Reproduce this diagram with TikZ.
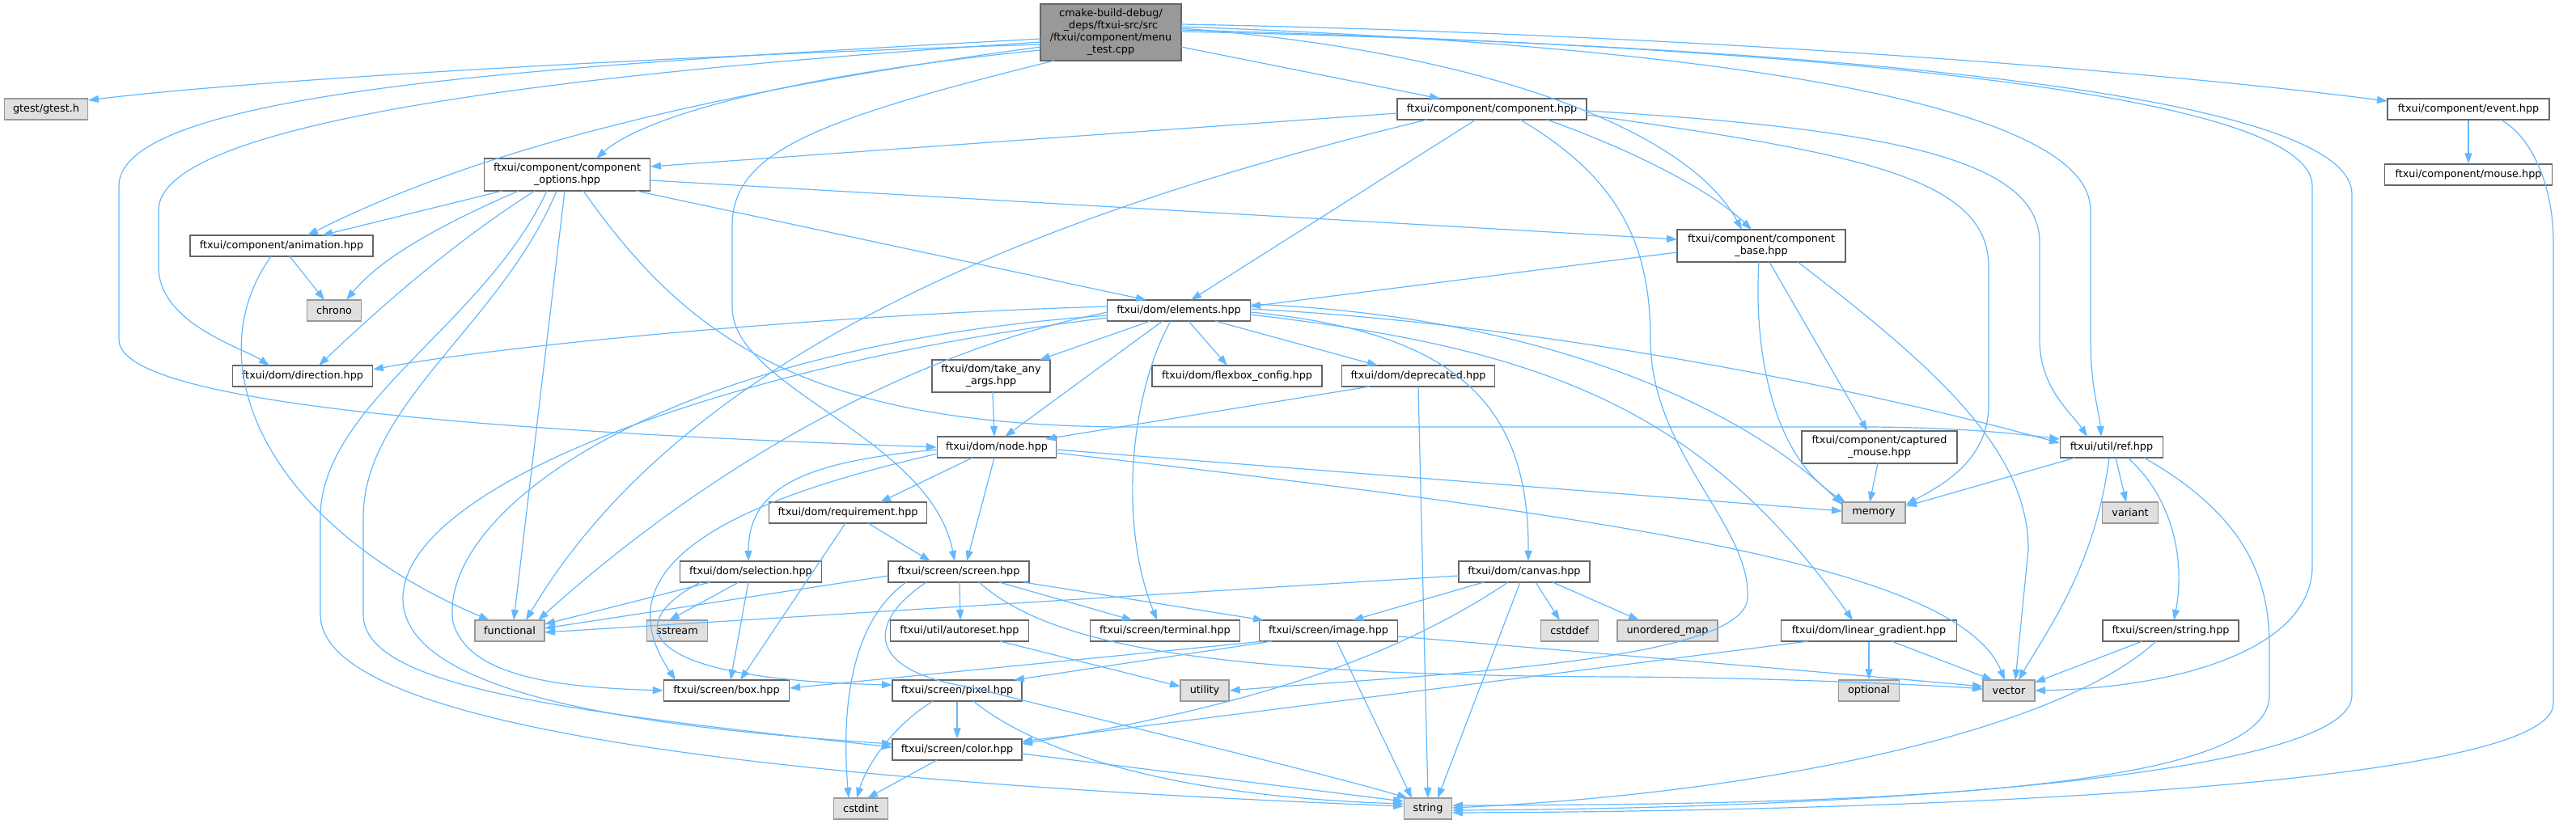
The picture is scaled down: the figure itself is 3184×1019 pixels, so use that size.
\documentclass[tikz,border=0pt]{standalone}
\usepackage{fontspec}
\setmainfont{DejaVu Sans}
\usetikzlibrary{arrows.meta}
\definecolor{edgec}{HTML}{63B8FF}
\definecolor{bordc}{HTML}{666666}
\definecolor{extb}{HTML}{999999}
\definecolor{extf}{HTML}{E0E0E0}
\definecolor{mainf}{HTML}{999999}
\tikzset{
  hdr/.style={draw=bordc, fill=white, line width=1.4pt, inner sep=0pt, align=center,
    font=\fontsize{12.8}{15}\selectfont, text=black},
  ext/.style={hdr, draw=extb, fill=extf},
  mainbox/.style={hdr, fill=mainf},
  e/.style={draw=edgec, line width=1.2pt, -{Triangle[length=13pt,width=9pt]}},
}
\newcommand{\bx}[6]{\node[#1, minimum width=#4pt, minimum height=#5pt] (#2) at (#3) {#6};}
\begin{document}
\begin{tikzpicture}[x=1pt,y=-1pt]
\useasboundingbox (0,0) rectangle (3184,1019);
% nodes
\bx{mainbox}{main}{1373,40}{174}{70}{cmake-build-debug/\\\_deps/ftxui-src/src\\/ftxui/component/menu\\\_test.cpp}
\bx{ext}{gtest}{57,135}{103}{26}{gtest/gtest.h}
\bx{hdr}{comp}{1844,135}{234}{26}{ftxui/component/component.hpp}
\bx{hdr}{event}{3051,135}{200}{26}{ftxui/component/event.hpp}
\bx{hdr}{copt}{701,216}{205}{40}{ftxui/component/component\\\_options.hpp}
\bx{hdr}{mouse}{3051,216}{207}{26}{ftxui/component/mouse.hpp}
\bx{hdr}{anim}{348,304}{226}{26}{ftxui/component/animation.hpp}
\bx{hdr}{cbase}{2177,304}{208}{40}{ftxui/component/component\\\_base.hpp}
\bx{ext}{chrono}{413,384}{67}{26}{chrono}
\bx{hdr}{elem}{1457,384}{177}{26}{ftxui/dom/elements.hpp}
\bx{hdr}{dir}{374,465}{173}{26}{ftxui/dom/direction.hpp}
\bx{hdr}{take}{1225,465}{146}{40}{ftxui/dom/take\_any\\\_args.hpp}
\bx{hdr}{flex}{1529,465}{210}{26}{ftxui/dom/flexbox\_config.hpp}
\bx{hdr}{dep}{1753,465}{189}{26}{ftxui/dom/deprecated.hpp}
\bx{hdr}{node}{1232,553}{147}{26}{ftxui/dom/node.hpp}
\bx{hdr}{capt}{2323,553}{192}{40}{ftxui/component/captured\\\_mouse.hpp}
\bx{hdr}{ref}{2610,553}{127}{26}{ftxui/util/ref.hpp}
\bx{hdr}{req}{1048,634}{195}{26}{ftxui/dom/requirement.hpp}
\bx{ext}{mem}{2316,634}{78}{26}{memory}
\bx{ext}{variant}{2633,634}{69}{26}{variant}
\bx{hdr}{sel}{928,707}{175}{26}{ftxui/dom/selection.hpp}
\bx{hdr}{scr}{1185,707}{174}{26}{ftxui/screen/screen.hpp}
\bx{hdr}{canvas}{1884,707}{162}{26}{ftxui/dom/canvas.hpp}
\bx{ext}{func}{630,780}{86}{26}{functional}
\bx{ext}{sstream}{837,780}{75}{26}{sstream}
\bx{hdr}{auto}{1186,780}{171}{26}{ftxui/util/autoreset.hpp}
\bx{hdr}{term}{1440,780}{185}{26}{ftxui/screen/terminal.hpp}
\bx{hdr}{img}{1642,780}{171}{26}{ftxui/screen/image.hpp}
\bx{ext}{cstddef}{1940,780}{71}{26}{cstddef}
\bx{ext}{umap}{2061,780}{124}{26}{unordered\_map}
\bx{hdr}{lg}{2310,780}{217}{26}{ftxui/dom/linear\_gradient.hpp}
\bx{hdr}{sstr}{2683,780}{168}{26}{ftxui/screen/string.hpp}
\bx{hdr}{box}{898,854}{155}{26}{ftxui/screen/box.hpp}
\bx{hdr}{pixel}{1183,854}{160}{26}{ftxui/screen/pixel.hpp}
\bx{ext}{util}{1489,854}{60}{26}{utility}
\bx{ext}{opt}{2310,854}{75}{26}{optional}
\bx{ext}{vector}{2483,854}{64}{26}{vector}
\bx{hdr}{color}{1183,927}{160}{26}{ftxui/screen/color.hpp}
\bx{ext}{cstdint}{1064,1000}{67}{26}{cstdint}
\bx{ext}{string}{1765,1000}{59}{26}{string}
% main
\draw[e] ([shift={(-87,15)}]main.center) .. controls (800,70) and (300,100) .. ([shift={(52,-11)}]gtest.center);
\draw[e] ([shift={(-87,22)}]main.center) .. controls (1000,90) and (800,140) .. ([shift={(36,-20)}]copt.center);
\draw[e] ([shift={(-87,18)}]main.center) .. controls (900,110) and (600,180) .. ([shift={(32,-13)}]anim.center);
\draw[e] ([shift={(-87,8)}]main.center) .. controls (700,80) and (147,110) .. (147,230) -- (147,420) .. controls (147,490) and (500,530) .. (node.west);
\draw[e] ([shift={(-87,12)}]main.center) .. controls (700,90) and (196,150) .. (196,260) -- (196,330) .. controls (196,400) and (300,430) .. ([shift={(-41,-13)}]dir.center);
\draw[e] ([shift={(-70,35)}]main.center) .. controls (1000,150) and (905,190) .. (905,280) -- (905,380) .. controls (905,480) and (1150,540) .. ([shift={(-5,-13)}]scr.center);
\draw[e] ([shift={(87,18)}]main.center) -- ([shift={(-64,-13)}]comp.center);
\draw[e] ([shift={(87,-5)}]main.center) .. controls (1800,60) and (2080,150) .. ([shift={(-24,-20)}]cbase.center);
\draw[e] ([shift={(87,-10)}]main.center) .. controls (2000,40) and (2600,80) .. ([shift={(-100,-10)}]event.center);
\draw[e] ([shift={(87,-7)}]main.center) .. controls (2200,60) and (2584,140) .. (2584,260) -- (2584,420) .. controls (2584,480) and (2595,510) .. ([shift={(-13,-13)}]ref.center);
\draw[e] ([shift={(87,-3)}]main.center) .. controls (2300,60) and (2858,120) .. (2858,230) -- (2858,700) .. controls (2858,800) and (2700,850) .. ([shift={(32,0)}]vector.center);
\draw[e] ([shift={(87,-1)}]main.center) .. controls (2400,60) and (2907,130) .. (2907,240) -- (2907,860) .. controls (2907,960) and (2300,1000) .. ([shift={(30,2)}]string.center);
% event
\draw[e] (event.south) -- (mouse.north);
\draw[e] ([shift={(40,13)}]event.center) .. controls (3130,170) and (3156,230) .. (3156,300) -- (3156,870) .. controls (3156,970) and (2400,1003) .. ([shift={(30,5)}]string.center);
% component.hpp
\draw[e] ([shift={(-117,5)}]comp.center) -- ([shift={(103,-10)}]copt.center);
\draw[e] ([shift={(-20,13)}]comp.center) -- ([shift={(15,-13)}]elem.center);
\draw[e] ([shift={(-80,13)}]comp.center) .. controls (1300,260) and (850,430) .. ([shift={(20,-13)}]func.center);
\draw[e] ([shift={(35,13)}]comp.center) .. controls (2000,220) and (2040,300) .. (2040,420) .. controls (2040,560) and (2165,650) .. (2160,740) .. controls (2155,820) and (1750,835) .. (util.east);
\draw[e] ([shift={(68,13)}]comp.center) .. controls (2030,190) and (2120,240) .. ([shift={(-12,-20)}]cbase.center);
\draw[e] ([shift={(117,7)}]comp.center) .. controls (2300,190) and (2458,220) .. (2458,330) -- (2458,500) .. controls (2458,570) and (2400,600) .. ([shift={(40,-10)}]mem.center);
\draw[e] ([shift={(117,2)}]comp.center) .. controls (2350,160) and (2521,200) .. (2521,300) -- (2521,420) .. controls (2521,480) and (2560,510) .. ([shift={(-30,-13)}]ref.center);
% component_options
\draw[e] ([shift={(-80,20)}]copt.center) -- ([shift={(50,-13)}]anim.center);
\draw[e] ([shift={(-60,20)}]copt.center) .. controls (540,280) and (470,320) .. ([shift={(15,-13)}]chrono.center);
\draw[e] ([shift={(-40,20)}]copt.center) .. controls (560,300) and (470,380) .. ([shift={(20,-13)}]dir.center);
\draw[e] ([shift={(-25,20)}]copt.center) .. controls (600,400) and (396,500) .. (396,640) -- (396,760) .. controls (396,880) and (800,960) .. ([shift={(-30,-3)}]string.center);
\draw[e] ([shift={(-13,20)}]copt.center) .. controls (620,400) and (449,500) .. (449,640) -- (449,760) .. controls (449,850) and (700,880) .. ([shift={(-80,-3)}]color.center);
\draw[e] ([shift={(-3,20)}]copt.center) -- ([shift={(5,-13)}]func.center);
\draw[e] ([shift={(20,20)}]copt.center) .. controls (850,420) and (1000,528) .. (1400,528) -- (2300,528) .. controls (2420,528) and (2500,537) .. ([shift={(-64,-10)}]ref.center);
\draw[e] ([shift={(85,20)}]copt.center) -- ([shift={(-40,-13)}]elem.center);
\draw[e] ([shift={(103,7)}]copt.center) -- ([shift={(-104,-8)}]cbase.center);
% animation
\draw[e] ([shift={(10,13)}]anim.center) -- ([shift={(-12,-13)}]chrono.center);
\draw[e] ([shift={(-13,13)}]anim.center) .. controls (240,450) and (330,650) .. ([shift={(-25,-13)}]func.center);
% component_base
\draw[e] ([shift={(-104,8)}]cbase.center) -- ([shift={(88,-5)}]elem.center);
\draw[e] ([shift={(-3,20)}]cbase.center) .. controls (2168,420) and (2185,560) .. ([shift={(-35,-13)}]mem.center);
\draw[e] ([shift={(10,20)}]cbase.center) -- ([shift={(-15,-20)}]capt.center);
\draw[e] ([shift={(45,20)}]cbase.center) .. controls (2400,460) and (2507,560) .. (2507,680) -- ([shift={(8,-13)}]vector.center);
% elements
\draw[e] ([shift={(-35,13)}]elem.center) -- ([shift={(60,-20)}]take.center);
\draw[e] ([shift={(12,13)}]elem.center) -- ([shift={(-12,-13)}]flex.center);
\draw[e] ([shift={(45,13)}]elem.center) -- ([shift={(-50,-13)}]dep.center);
\draw[e] ([shift={(-20,13)}]elem.center) -- ([shift={(10,-13)}]node.center);
\draw[e] ([shift={(-10,13)}]elem.center) .. controls (1400,480) and (1380,640) .. ([shift={(-10,-13)}]term.center);
\draw[e] ([shift={(-88,-5)}]elem.center) .. controls (1000,390) and (600,430) .. ([shift={(87,-8)}]dir.center);
\draw[e] ([shift={(-88,2)}]elem.center) .. controls (1100,440) and (850,600) .. ([shift={(35,-13)}]func.center);
\draw[e] ([shift={(-88,6)}]elem.center) .. controls (800,430) and (540,640) .. (560,770) .. controls (580,840) and (700,850) .. (box.west);
\draw[e] ([shift={(-88,9)}]elem.center) .. controls (900,450) and (498,600) .. (498,740) .. controls (498,860) and (800,900) .. ([shift={(-80,-7)}]color.center);
\draw[e] ([shift={(88,-8)}]elem.center) .. controls (1900,390) and (2150,500) .. ([shift={(-39,-10)}]mem.center);
\draw[e] ([shift={(88,-2)}]elem.center) .. controls (1900,400) and (2300,480) .. ([shift={(-64,-5)}]ref.center);
\draw[e] ([shift={(88,2)}]elem.center) .. controls (1800,410) and (1890,500) .. ([shift={(5,-13)}]canvas.center);
\draw[e] ([shift={(88,5)}]elem.center) .. controls (1900,430) and (2100,500) .. ([shift={(-20,-13)}]lg.center);
% take_any_args, deprecated
\draw[e] ([shift={(2,20)}]take.center) -- ([shift={(-3,-13)}]node.center);
\draw[e] ([shift={(-60,13)}]dep.center) -- ([shift={(60,-10)}]node.center);
\draw[e] ([shift={(0,13)}]dep.center) -- ([shift={(0,-13)}]string.center);
% node
\draw[e] ([shift={(73,3)}]node.center) -- ([shift={(-39,-2)}]mem.center);
\draw[e] ([shift={(73,7)}]node.center) .. controls (2000,640) and (2420,700) .. ([shift={(-5,-13)}]vector.center);
\draw[e] ([shift={(-30,13)}]node.center) -- ([shift={(40,-13)}]req.center);
\draw[e] ([shift={(-3,13)}]node.center) -- ([shift={(10,-13)}]scr.center);
\draw[e] ([shift={(-73,3)}]node.center) .. controls (1000,570) and (925,600) .. ([shift={(-3,-13)}]sel.center);
\draw[e] ([shift={(-73,8)}]node.center) .. controls (900,620) and (740,700) .. ([shift={(-63,-13)}]box.center);
% requirement
\draw[e] ([shift={(-3,13)}]req.center) -- ([shift={(17,-13)}]box.center);
\draw[e] ([shift={(25,13)}]req.center) -- ([shift={(-35,-13)}]scr.center);
% selection
\draw[e] ([shift={(-50,13)}]sel.center) -- ([shift={(43,-8)}]func.center);
\draw[e] ([shift={(-15,13)}]sel.center) -- ([shift={(-10,-13)}]sstream.center);
\draw[e] ([shift={(-3,13)}]sel.center) -- ([shift={(5,-13)}]box.center);
\draw[e] ([shift={(-62,13)}]sel.center) .. controls (770,770) and (780,840) .. ([shift={(-80,-7)}]pixel.center);
% screen
\draw[e] ([shift={(-87,5)}]scr.center) -- ([shift={(43,-3)}]func.center);
\draw[e] ([shift={(-65,13)}]scr.center) .. controls (1050,770) and (1040,880) .. ([shift={(-15,-13)}]cstdint.center);
\draw[e] ([shift={(-40,13)}]scr.center) .. controls (1070,770) and (1070,830) .. (1200,850) .. controls (1400,900) and (1650,960) .. ([shift={(-25,-13)}]string.center);
\draw[e] ([shift={(1,13)}]scr.center) -- ([shift={(1,-13)}]auto.center);
\draw[e] ([shift={(25,13)}]scr.center) .. controls (1300,800) and (1500,835) .. (2000,837) .. controls (2200,838) and (2400,848) .. ([shift={(-32,-2)}]vector.center);
\draw[e] ([shift={(50,13)}]scr.center) -- ([shift={(-40,-13)}]term.center);
\draw[e] ([shift={(80,13)}]scr.center) -- ([shift={(-80,-13)}]img.center);
% canvas
\draw[e] ([shift={(-81,5)}]canvas.center) -- ([shift={(43,2)}]func.center);
\draw[e] ([shift={(-50,13)}]canvas.center) -- ([shift={(30,-13)}]img.center);
\draw[e] ([shift={(-20,13)}]canvas.center) .. controls (1700,830) and (1500,880) .. ([shift={(80,-7)}]color.center);
\draw[e] ([shift={(-5,13)}]canvas.center) -- ([shift={(12,-13)}]string.center);
\draw[e] ([shift={(14,13)}]canvas.center) -- ([shift={(-12,-13)}]cstddef.center);
\draw[e] ([shift={(35,13)}]canvas.center) -- ([shift={(-35,-13)}]umap.center);
% image
\draw[e] ([shift={(-80,13)}]img.center) -- ([shift={(78,-3)}]box.center);
\draw[e] ([shift={(-70,13)}]img.center) -- ([shift={(70,-13)}]pixel.center);
\draw[e] ([shift={(10,13)}]img.center) -- ([shift={(-20,-13)}]string.center);
\draw[e] ([shift={(86,7)}]img.center) .. controls (2000,810) and (2300,835) .. ([shift={(-32,-5)}]vector.center);
% pixel, color, autoreset
\draw[e] ([shift={(-30,13)}]pixel.center) .. controls (1100,900) and (1070,950) .. ([shift={(-5,-13)}]cstdint.center);
\draw[e] (pixel.south) -- (color.north);
\draw[e] ([shift={(20,13)}]pixel.center) .. controls (1280,930) and (1450,985) .. ([shift={(-30,-6)}]string.center);
\draw[e] ([shift={(-25,13)}]color.center) -- ([shift={(8,-13)}]cstdint.center);
\draw[e] ([shift={(80,5)}]color.center) -- ([shift={(-30,-9)}]string.center);
\draw[e] ([shift={(50,13)}]auto.center) -- ([shift={(-30,-5)}]util.center);
% linear_gradient
\draw[e] ([shift={(-75,13)}]lg.center) -- ([shift={(80,-10)}]color.center);
\draw[e] (lg.south) -- (opt.north);
\draw[e] ([shift={(28,13)}]lg.center) -- ([shift={(-20,-13)}]vector.center);
% ref
\draw[e] ([shift={(-45,13)}]ref.center) -- ([shift={(40,-8)}]mem.center);
\draw[e] ([shift={(5,13)}]ref.center) -- ([shift={(-5,-13)}]variant.center);
\draw[e] ([shift={(20,13)}]ref.center) .. controls (2690,620) and (2700,700) .. ([shift={(4,-13)}]sstr.center);
\draw[e] ([shift={(-3,13)}]ref.center) .. controls (2590,700) and (2530,780) .. ([shift={(12,-13)}]vector.center);
\draw[e] ([shift={(40,13)}]ref.center) .. controls (2780,640) and (2805,720) .. (2805,800) -- (2805,860) .. controls (2805,980) and (2300,995) .. ([shift={(30,-4)}]string.center);
% screen/string.hpp
\draw[e] ([shift={(-35,13)}]sstr.center) -- ([shift={(32,-10)}]vector.center);
\draw[e] ([shift={(-18,13)}]sstr.center) .. controls (2550,900) and (2200,980) .. ([shift={(30,-1)}]string.center);
% captured_mouse
\draw[e] ([shift={(-2,20)}]capt.center) -- ([shift={(-5,-13)}]mem.center);
\end{tikzpicture}
\end{document}
